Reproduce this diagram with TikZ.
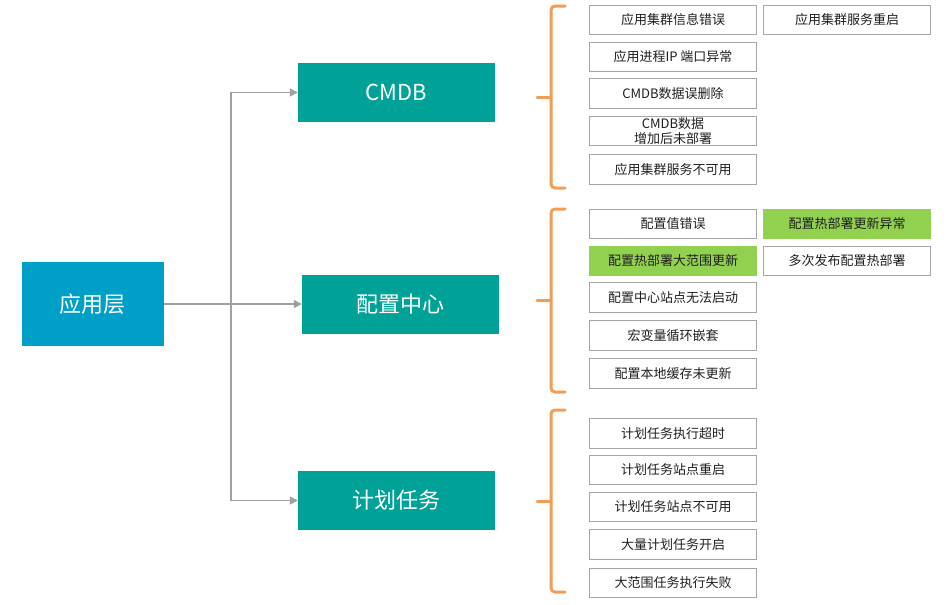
\documentclass[tikz,border=0pt]{standalone}
\usepackage{fontspec}
\setmainfont{Noto Sans CJK SC}
\usetikzlibrary{arrows.meta}
\definecolor{appblue}{RGB}{0,159,200}
\definecolor{teal}{RGB}{0,162,152}
\definecolor{hlgreen}{RGB}{146,208,80}
\definecolor{boxgray}{RGB}{165,165,165}
\definecolor{conngray}{RGB}{160,160,160}
\definecolor{braceorange}{RGB}{242,157,85}
\tikzset{
  bigbox/.style={fill=teal, text=white, font=\fontsize{22}{26}\selectfont, minimum width=197pt, minimum height=59pt, inner sep=0pt},
  sbox/.style={draw=boxgray, line width=0.9pt, fill=white, text=black!88, font=\fontsize{13}{15}\selectfont, minimum width=167pt, minimum height=29.5pt, inner sep=0pt, align=center},
  hbox/.style={sbox, fill=hlgreen, draw=hlgreen},
  conn/.style={draw=conngray, line width=1.5pt, -{Triangle[length=8pt,width=8pt]}},
  bracestyle/.style={draw=braceorange, line width=3pt, rounded corners=4pt, line cap=round}
}
\begin{document}
\begin{tikzpicture}[x=1pt,y=-1pt]
\useasboundingbox (0,0) rectangle (948,605);
% main nodes
\node[fill=appblue, text=white, font=\fontsize{22}{26}\selectfont, minimum width=142pt, minimum height=83.5pt, inner sep=0pt] (app) at (92.5,304) {应用层};
\node[bigbox, minimum height=58.5pt] (cmdb) at (396.5,92.5) {CMDB};
\node[bigbox] (cfg) at (400.5,304) {配置中心};
\node[bigbox] (task) at (396.5,500.5) {计划任务};
% connectors
\coordinate (j) at (231,304);
\draw[conn] (app.east) -- (cfg.west);
\draw[conn] (j) |- (cmdb.west);
\draw[conn] (j) |- (task.west);
% group 1
\node[sbox] (a1) at (673,20) {应用集群信息错误};
\node[sbox] (a2) at (847,20) {应用集群服务重启};
\node[sbox] (a3) at (673,56.8) {应用进程IP 端口异常};
\node[sbox] (a4) at (673,93.5) {CMDB数据误删除};
\node[sbox] (a5) at (673,131) {CMDB数据\\增加后未部署};
\node[sbox] (a6) at (673,169.3) {应用集群服务不可用};
% group 2
\node[sbox] (b1) at (673,224) {配置值错误};
\node[hbox] (b2) at (847,224) {配置热部署更新异常};
\node[hbox] (b3) at (673,260.7) {配置热部署大范围更新};
\node[sbox] (b4) at (847,260.7) {多次发布配置热部署};
\node[sbox] (b5) at (673,297.5) {配置中心站点无法启动};
\node[sbox] (b6) at (673,335.3) {宏变量循环嵌套};
\node[sbox] (b7) at (673,373.5) {配置本地缓存未更新};
% group 3
\node[sbox] (c1) at (673,433.3) {计划任务执行超时};
\node[sbox] (c2) at (673,470) {计划任务站点重启};
\node[sbox] (c3) at (673,506.7) {计划任务站点不可用};
\node[sbox] (c4) at (673,544.3) {大量计划任务开启};
\node[sbox] (c5) at (673,582.8) {大范围任务执行失败};
% braces
\draw[bracestyle] (565,6) -- (551,6) -- (551,188) -- (565,188);
\draw[bracestyle] (537,97.7) -- (551,97.7);
\draw[bracestyle] (565,209) -- (551,209) -- (551,392) -- (565,392);
\draw[bracestyle] (537,300) -- (551,300);
\draw[bracestyle] (565,410) -- (551,410) -- (551,592) -- (565,592);
\draw[bracestyle] (537,501) -- (551,501);
\end{tikzpicture}
\end{document}
